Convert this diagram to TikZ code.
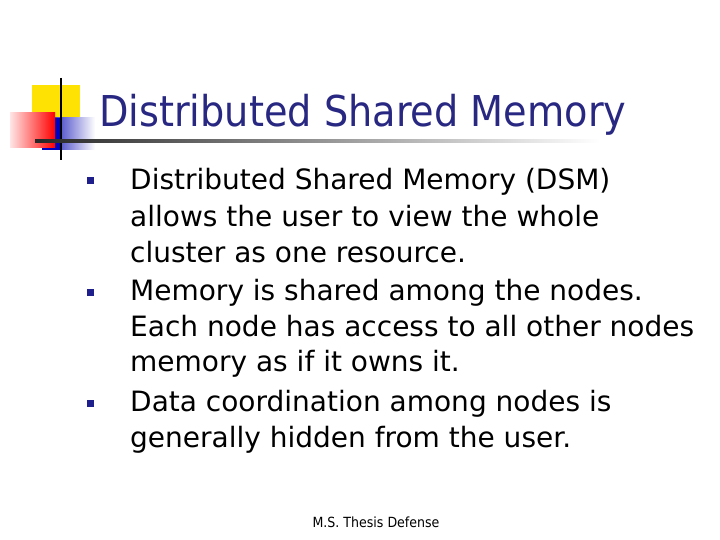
\documentclass[tikz,border=0pt]{standalone}
\usepackage{fontspec}
\setmainfont{DejaVu Sans}[FakeStretch=0.9]
\newfontfamily\bodyfont{DejaVu Sans}
\definecolor{navy}{RGB}{40,40,130}
\definecolor{bul}{RGB}{30,30,140}
\begin{document}
\begin{tikzpicture}[x=1pt,y=-1pt,
  body/.style={anchor=base west,inner sep=0,font=\bodyfont\fontsize{28}{30}\selectfont},
  bsq/.style={fill=bul,minimum size=7pt,inner sep=0}]
\useasboundingbox (0,0) rectangle (720,540);
% logo
\fill[yellow!85!orange] (32,85) rectangle (80,118);
\shade[left color=blue!70!black,right color=white] (42,118) rectangle (95,150);
\fill[blue!75!black] (42,118) rectangle (62,150);
\shade[left color=red!10,right color=red] (10,113) rectangle (55,148);
\draw[line width=2pt] (61,78) -- (61,160);
\shade[left color=black!85,right color=white] (35,140) rectangle (600,142.5);
% title
\node[anchor=base west,inner sep=0,text=navy,font=\fontsize{42.5}{46}\selectfont] (title) at (99,127) {Distributed Shared Memory};
% bullets
\node[bsq] (b1) at (90,181) {};
\node[bsq] (b2) at (90,292) {};
\node[bsq] (b3) at (90,403) {};
\node[body] (l1) at (130,190) {Distributed Shared Memory (DSM)};
\node[body] (l2) at (130,226) {allows the user to view the whole};
\node[body] (l3) at (130,262) {cluster as one resource.};
\node[body] (l4) at (130,300) {Memory is shared among the nodes.};
\node[body] (l5) at (130,336) {Each node has access to all other nodes};
\node[body] (l6) at (130,371) {memory as if it owns it.};
\node[body] (l7) at (130,411) {Data coordination among nodes is};
\node[body] (l8) at (130,447) {generally hidden from the user.};
\node[font=\fontsize{14}{16}\selectfont,inner sep=0] (foot) at (376,522) {M.S. Thesis Defense};
\end{tikzpicture}
\end{document}
